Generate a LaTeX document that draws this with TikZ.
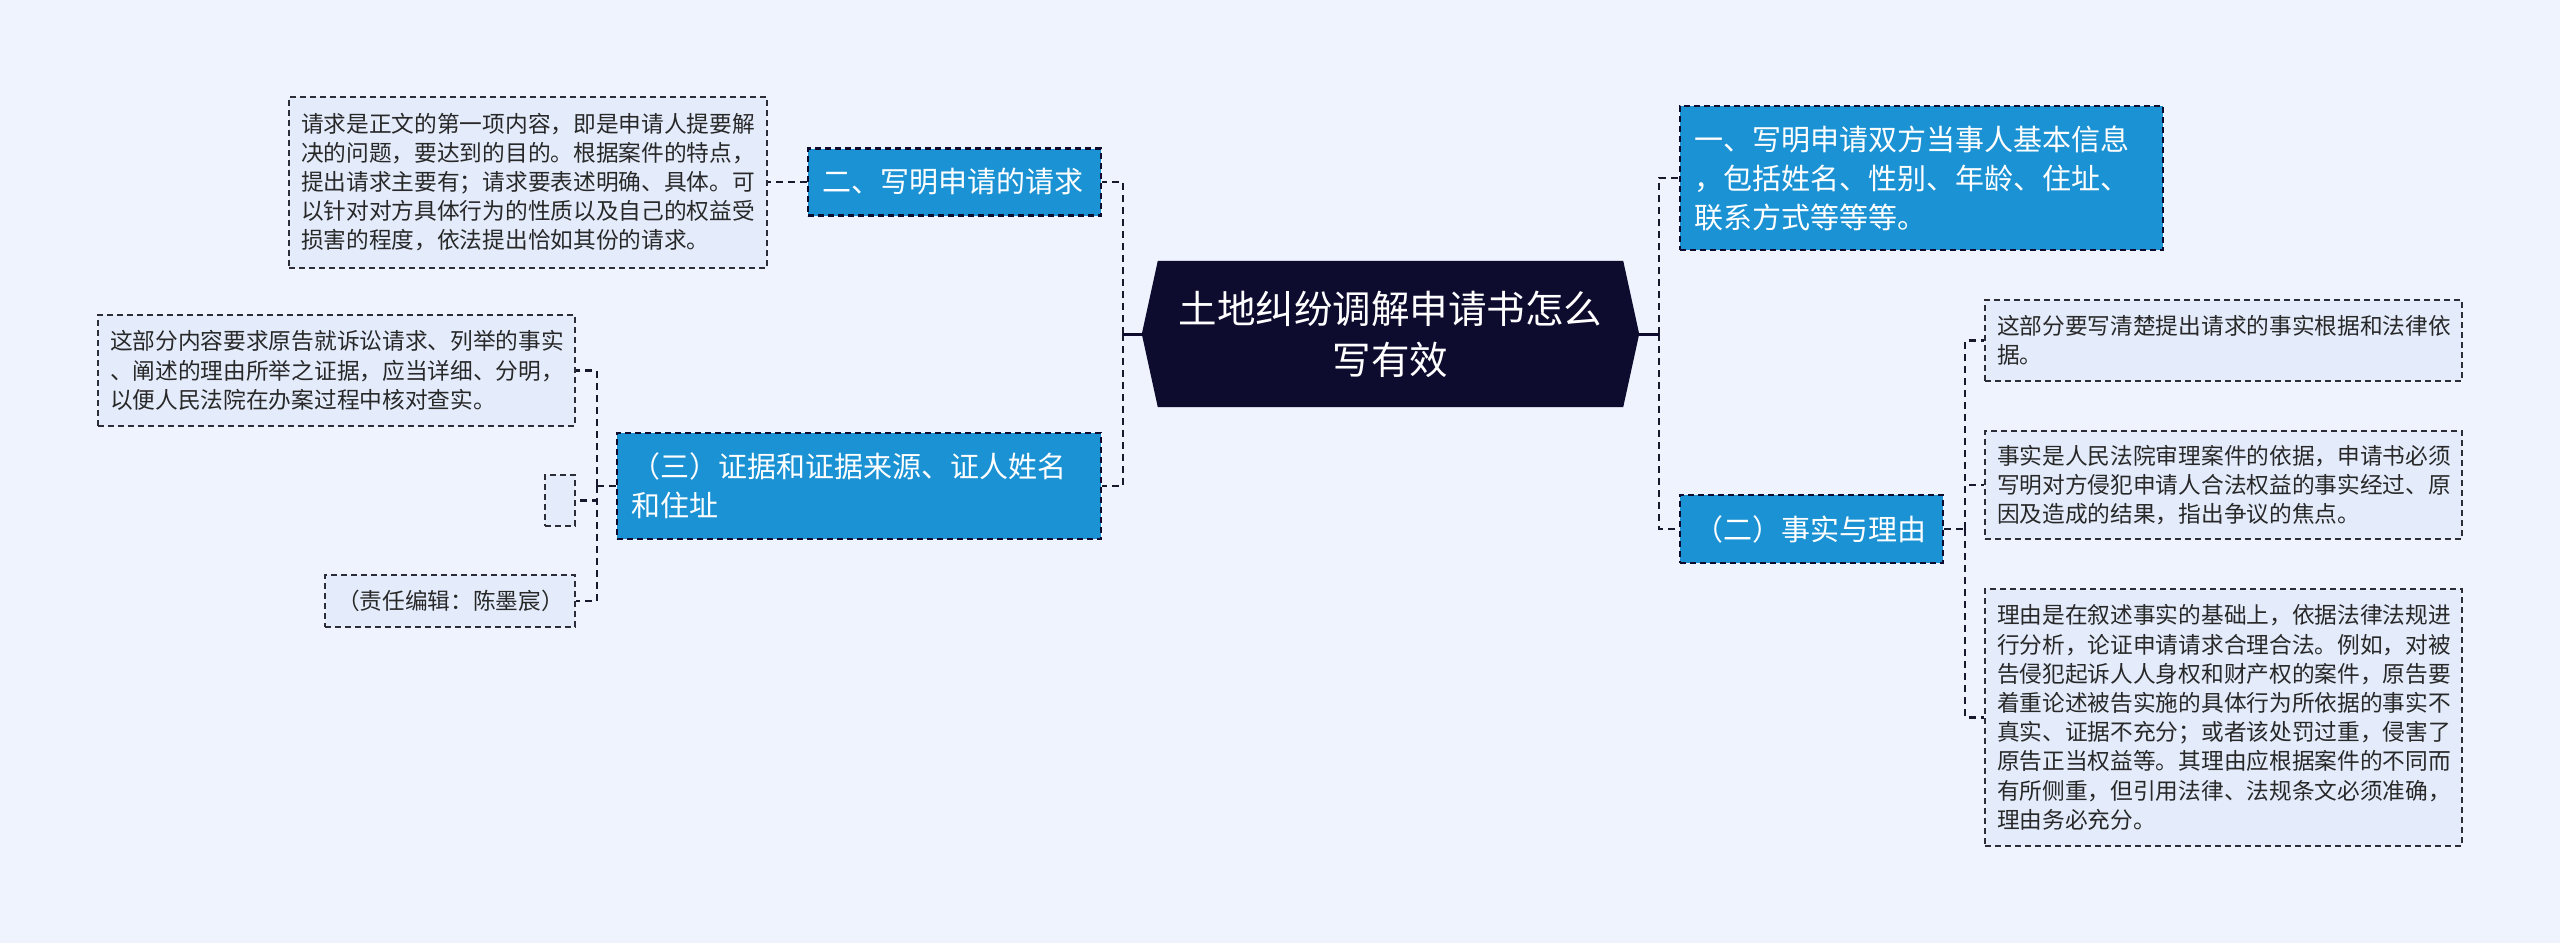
\documentclass[tikz,border=0pt]{standalone}
\usepackage{fontspec}
\setmainfont{Noto Sans CJK SC}
\usetikzlibrary{backgrounds}
\definecolor{bgcol}{RGB}{238,243,254}
\definecolor{navy}{RGB}{13,11,46}
\definecolor{bluebox}{RGB}{27,146,212}
\definecolor{leaffill}{RGB}{228,236,252}
\definecolor{leafline}{RGB}{45,45,55}
\definecolor{leaftext}{RGB}{40,40,40}
\definecolor{conncol}{RGB}{25,25,45}
\begin{document}
\begin{tikzpicture}[x=1pt,y=-1pt,
  bluenode/.style={draw=navy, fill=bluebox, line width=2.2pt, dash pattern=on 6pt off 4pt, text=white,
    font=\fontsize{29}{39}\selectfont, inner xsep=14pt, inner ysep=0pt, align=left},
  leafnode/.style={draw=leafline, fill=leaffill, line width=2pt, dash pattern=on 6pt off 4pt, text=leaftext,
    font=\fontsize{22.7}{29.2}\selectfont, inner xsep=12pt, inner ysep=0pt, align=left},
  conn/.style={draw=conncol, line width=2.5pt, dash pattern=on 7pt off 5pt},
  mainconn/.style={draw=navy, line width=3pt}
]
\begin{scope}[on background layer]
\fill[bgcol] (0,0) rectangle (2560,943);
\end{scope}
\useasboundingbox (0,0) rectangle (2560,943);

% central
\node[font=\fontsize{38.5}{51}\selectfont, text=white, align=center, minimum width=497pt, minimum height=146pt, inner sep=0pt] (c) at (1390.5,334) {土地纠纷调解申请书怎么\\写有效};
\begin{scope}[on background layer]
\fill[navy] (c.west) -- ([xshift=16pt]c.north west) -- ([xshift=-16pt]c.north east) -- (c.east) -- ([xshift=-16pt]c.south east) -- ([xshift=16pt]c.south west) -- cycle;
\end{scope}

% blue nodes
\node[bluenode, minimum width=483pt, minimum height=144pt, text width=455pt] (n1) at (1921.5,178) {一、写明申请双方当事人基本信息\\，包括姓名、性别、年龄、住址、\\联系方式等等等。};
\node[bluenode, minimum width=293pt, minimum height=67pt, text width=265pt] (n2) at (954.5,182) {二、写明申请的请求};
\node[bluenode, minimum width=484pt, minimum height=106pt, text width=456pt] (n3) at (859,486) {（三）证据和证据来源、证人姓名\\和住址};
\node[bluenode, minimum width=263pt, minimum height=68pt, text width=235pt] (n4) at (1811.5,529) {（二）事实与理由};

% leaves left
\node[leafnode, minimum width=478pt, minimum height=171pt, text width=454pt] (L1) at (528,182) {请求是正文的第一项内容，即是申请人提要解\\决的问题，要达到的目的。根据案件的特点，\\提出请求主要有；请求要表述明确、具体。可\\以针对对方具体行为的性质以及自己的权益受\\损害的程度，依法提出恰如其份的请求。};
\node[leafnode, minimum width=477pt, minimum height=111pt, text width=453pt] (L2) at (336.5,370.5) {这部分内容要求原告就诉讼请求、列举的事实\\、阐述的理由所举之证据，应当详细、分明，\\以便人民法院在办案过程中核对查实。};
\node[leafnode, minimum width=30pt, minimum height=51pt, inner xsep=0pt] (L3) at (560,500.5) {};
\node[leafnode, minimum width=250pt, minimum height=52pt, text width=226pt] (L4) at (450,601) {（责任编辑：陈墨宸）};

% leaves right
\node[leafnode, minimum width=477pt, minimum height=81pt, text width=453pt] (R1) at (2223.5,340.5) {这部分要写清楚提出请求的事实根据和法律依\\据。};
\node[leafnode, minimum width=477pt, minimum height=108pt, text width=453pt] (R2) at (2223.5,485) {事实是人民法院审理案件的依据，申请书必须\\写明对方侵犯申请人合法权益的事实经过、原\\因及造成的结果，指出争议的焦点。};
\node[leafnode, minimum width=477pt, minimum height=257pt, text width=453pt] (R3) at (2223.5,717.5) {理由是在叙述事实的基础上，依据法律法规进\\行分析，论证申请请求合理合法。例如，对被\\告侵犯起诉人人身权和财产权的案件，原告要\\着重论述被告实施的具体行为所依据的事实不\\真实、证据不充分；或者该处罚过重，侵害了\\原告正当权益等。其理由应根据案件的不同而\\有所侧重，但引用法律、法规条文必须准确，\\理由务必充分。};

% junction coordinates
\coordinate (lt) at ([xshift=-19pt]c.west);
\coordinate (rt) at ([xshift=20pt]c.east);
\coordinate (t3) at ([xshift=-19pt]n3.west);
\coordinate (t4) at ([xshift=21pt]n4.east);

% connectors
\draw[conn] (lt) |- (n2.east);
\draw[conn] (lt) |- (n3.east);
\draw[mainconn] (c.west) -- (lt);
\draw[conn] (rt) |- (n1.west);
\draw[conn] (rt) |- (n4.west);
\draw[mainconn] (c.east) -- (rt);
\draw[conn] (n2.west) -- (L1.east);
\draw[conn] (n3.west) -- (t3);
\draw[conn] (t3) |- (L2.east);
\draw[conn] (t3) |- (L3.east);
\draw[conn] (t3) |- (L4.east);
\draw[conn] (n4.east) -- (t4);
\draw[conn] (t4) |- (R1.west);
\draw[conn] (t4) |- (R2.west);
\draw[conn] (t4) |- (R3.west);
\end{tikzpicture}
\end{document}
